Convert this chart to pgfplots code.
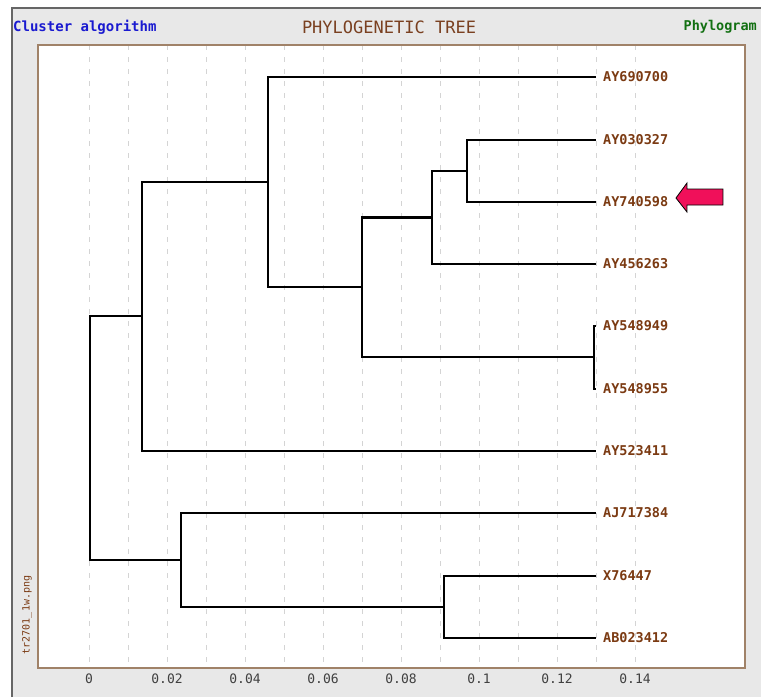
\documentclass[border=0pt]{standalone}
\usepackage{pgfplots}
\pgfplotsset{compat=1.18}
\usepackage{fontspec}
\newfontfamily\monof{DejaVu Sans Mono}
\definecolor{labbrown}{HTML}{7B3A12}
\definecolor{titbrown}{HTML}{7A4020}
\definecolor{framec}{HTML}{A08268}
\definecolor{panel}{HTML}{E8E8E8}
\definecolor{gridc}{HTML}{D4D4D4}
\definecolor{arrowc}{HTML}{F0105A}
\definecolor{bluet}{HTML}{1A1AD0}
\definecolor{greent}{HTML}{127012}
\pgfplotsset{br/.style={black, solid, mark=none, line width=2.2pt, line join=miter}}
\begin{document}
\begin{tikzpicture}
\begin{scope}[shift={(-38pt,668pt)}, x=1pt, y=-1pt]
\path[use as bounding box] (0,0) rectangle (767,699);
\fill[white] (0,0) rectangle (767,699);
\fill[panel] (12,8) rectangle (761,697);
\draw[black!60, line width=1.5pt] (12,697) -- (12,8) -- (761,8);
\node[anchor=west, inner sep=0, text=bluet, font=\monof\bfseries\fontsize{14}{14}\selectfont] at (13,27) {Cluster algorithm};
\node[inner sep=0, text=titbrown, font=\monof\fontsize{17}{17}\selectfont] at (389,27) {PHYLOGENETIC TREE};
\node[anchor=east, inner sep=0, text=greent, font=\monof\bfseries\fontsize{13.5}{13.5}\selectfont] at (757,27) {Phylogram};
\node[rotate=90, inner sep=0, text=labbrown, font=\monof\fontsize{10}{10}\selectfont] at (27,615) {tr2701\_1w.png};
\end{scope}
\begin{axis}[at={(0pt,0pt)}, anchor=south west, scale only axis, width=707pt, height=623pt,
  xmin=-0.013077, xmax=0.168205, ymin=45, ymax=668, y dir=reverse,
  axis line style={framec, line width=1.5pt},
  axis background/.style={fill=white},
  xtick={0,0.02,0.04,0.06,0.08,0.1,0.12,0.14},
  xticklabels={0,0.02,0.04,0.06,0.08,0.1,0.12,0.14},
  minor xtick={0.01,0.03,0.05,0.07,0.09,0.11,0.13},
  ytick=\empty,
  xmajorgrids, xminorgrids,
  major grid style={gridc, dash pattern=on 5pt off 7pt, line width=0.9pt},
  minor grid style={gridc, dash pattern=on 5pt off 7pt, line width=0.9pt},
  major tick length=0pt, minor tick length=0pt,
  xticklabel style={font=\monof\fontsize{13}{13}\selectfont, text=black!75, yshift=-2pt},
  clip=false]
% dendrogram branches (x = distance, y = vertical position of rows)
\addplot[br] coordinates {(0.130,140) (0.0969,140) (0.0969,202) (0.130,202)};
\addplot[br] coordinates {(0.0969,171) (0.0879,171) (0.0879,264) (0.130,264)};
\addplot[br] coordinates {(0.130,326) (0.1295,326) (0.1295,389) (0.130,389)};
\addplot[br] coordinates {(0.0879,217.5) (0.0700,217.5) (0.0700,357) (0.1295,357)};
\addplot[br] coordinates {(0.130,77) (0.0459,77) (0.0459,287) (0.0700,287)};
\addplot[br] coordinates {(0.0459,182) (0.0136,182) (0.0136,451) (0.130,451)};
\addplot[br] coordinates {(0.130,576) (0.0910,576) (0.0910,638) (0.130,638)};
\addplot[br] coordinates {(0.130,513) (0.0236,513) (0.0236,607) (0.0910,607)};
\addplot[br] coordinates {(0.0136,316) (0.0003,316) (0.0003,560) (0.0236,560)};
% arrow
\addplot[fill=arrowc, draw=black, line width=0.8pt, mark=none] coordinates {(0.15051,198) (0.15333,183) (0.15333,189) (0.16256,189) (0.16256,205) (0.15333,205) (0.15333,212)} -- cycle;
\begin{scope}[every node/.style={anchor=west, inner sep=0, text=labbrown, font=\monof\bfseries\fontsize{13.5}{13.5}\selectfont}]
\node at (axis cs:0.1318,77) {AY690700};
\node at (axis cs:0.1318,140) {AY030327};
\node at (axis cs:0.1318,202) {AY740598};
\node at (axis cs:0.1318,264) {AY456263};
\node at (axis cs:0.1318,326) {AY548949};
\node at (axis cs:0.1318,389) {AY548955};
\node at (axis cs:0.1318,451) {AY523411};
\node at (axis cs:0.1318,513) {AJ717384};
\node at (axis cs:0.1318,576) {X76447};
\node at (axis cs:0.1318,638) {AB023412};
\end{scope}
\end{axis}
\end{tikzpicture}
\end{document}
